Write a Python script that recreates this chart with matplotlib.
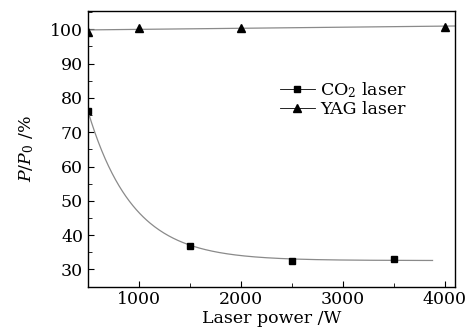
import numpy as np
import matplotlib
matplotlib.use("Agg")
import matplotlib.pyplot as plt
from matplotlib.ticker import MultipleLocator

plt.rcParams['font.family'] = ['DejaVu Serif']
plt.rcParams['mathtext.fontset'] = 'dejavuserif'

# measured points
co2_power = [500, 1500, 2500, 3500]
co2_ratio = [76.2, 36.9, 32.5, 33.1]
yag_power = [500, 1000, 2000, 4000]
yag_ratio = [99.3, 100.5, 100.4, 100.8]

# exponential decay fit drawn through the CO2 points (parameters)
fit_y0, fit_a, fit_t = 32.6, 43.6, 440.0

fig = plt.figure(figsize=(4.7, 3.36), dpi=100)
ax = fig.add_axes([0.187, 0.147, 0.781, 0.820])

xs = np.linspace(500, 3880, 300)
ax.plot(xs, fit_y0 + fit_a * np.exp(-(xs - 500) / fit_t), color='#8a8a8a', lw=0.9)
k = np.polyfit(yag_power, yag_ratio, 1)
xl = np.array([500, 4100])
ax.plot(xl, np.polyval(k, xl), color='#8a8a8a', lw=0.9)

ax.plot(co2_power, co2_ratio, 's', color='black', ms=4.8)
ax.plot(yag_power, yag_ratio, '^', color='black', ms=6)

# legend handles: short line + marker
h1, = ax.plot([], [], '-s', color='black', ms=4.5, lw=0.6, label='CO$_2$ laser')
h2, = ax.plot([], [], '-^', color='black', ms=5.5, lw=0.6, label='YAG laser')
ax.legend(handles=[h1, h2], loc='upper left', bbox_to_anchor=(0.5, 0.78),
          frameon=False, fontsize=12.5, handlelength=2.0, handletextpad=0.3,
          labelspacing=0.05, borderpad=0)

ax.set_xlim(500, 4100)
ax.set_ylim(25, 105.3)
ax.xaxis.set_major_locator(MultipleLocator(1000))
ax.xaxis.set_minor_locator(MultipleLocator(500))
ax.yaxis.set_major_locator(MultipleLocator(10))
ax.yaxis.set_minor_locator(MultipleLocator(5))
ax.tick_params(which='both', direction='in', top=False, right=False, labelsize=12.5)
ax.tick_params(which='major', length=4)
ax.tick_params(which='minor', length=3)
for s in ax.spines.values():
    s.set_linewidth(1.0)

ax.set_xlabel('Laser power /W', fontsize=12.5, labelpad=1)
ax.set_ylabel('$P/P_0$ /%', fontsize=12.5, labelpad=10)

fig.savefig('out.png', dpi=100)
